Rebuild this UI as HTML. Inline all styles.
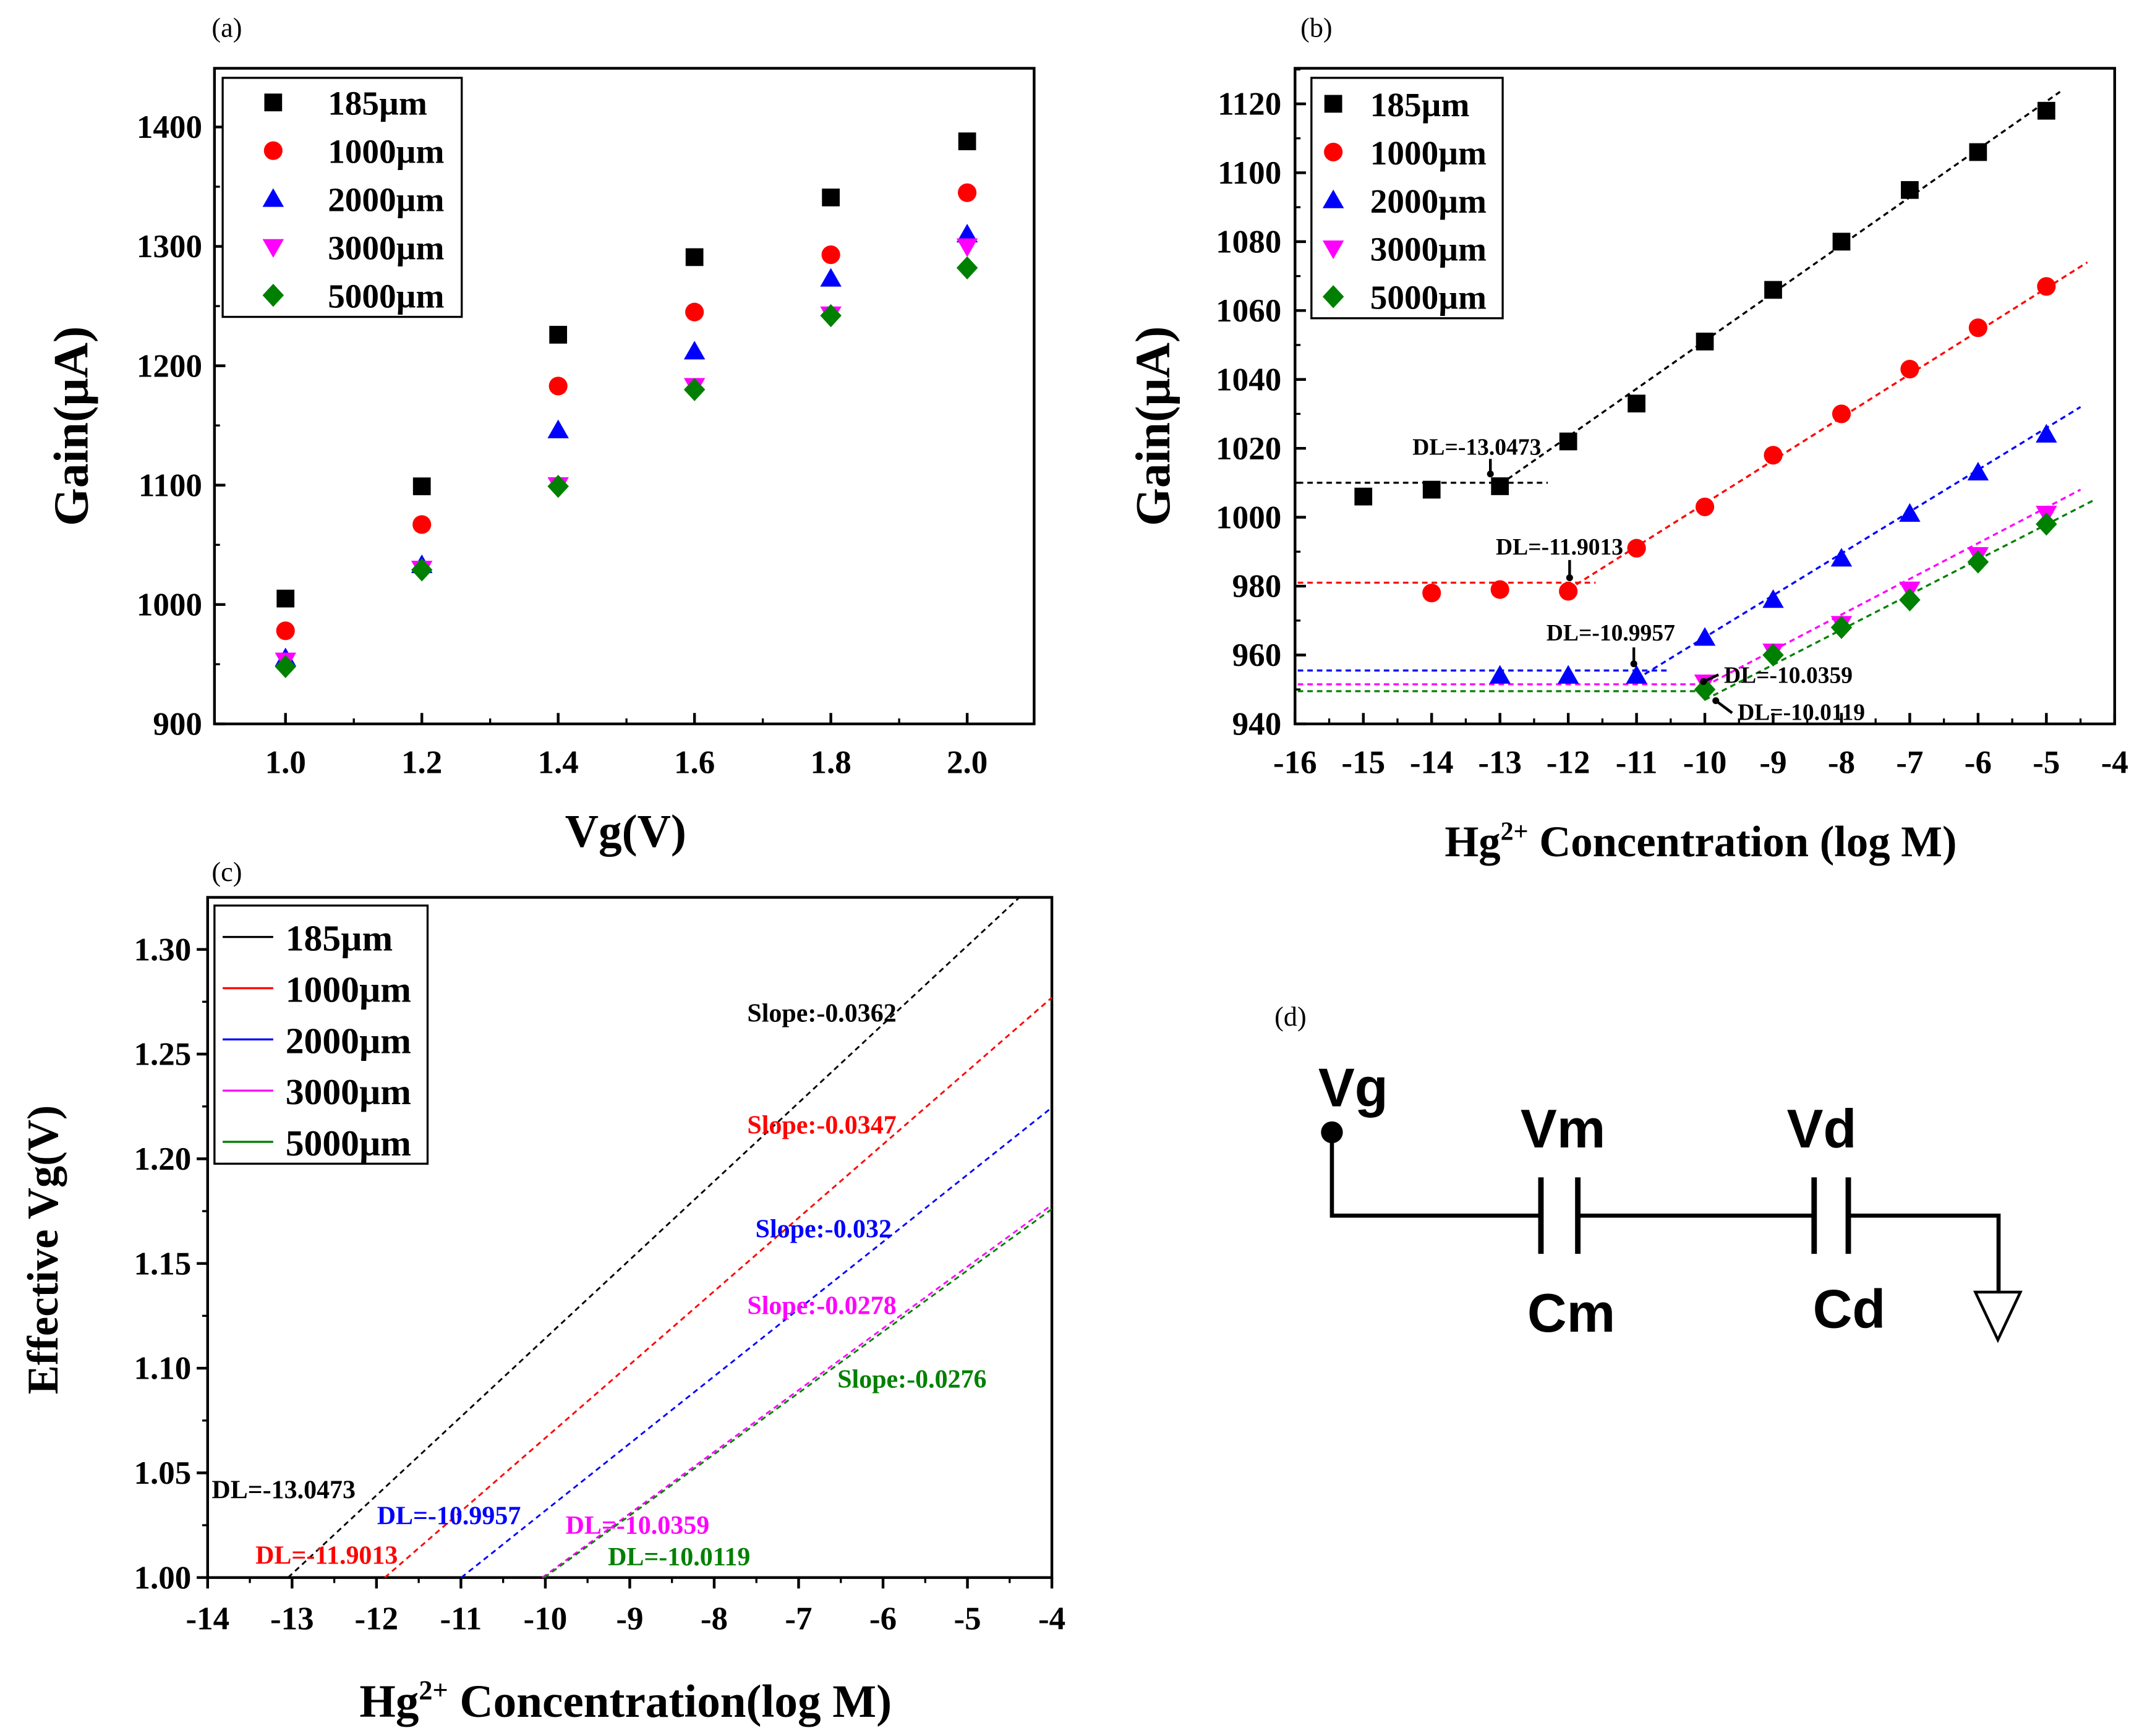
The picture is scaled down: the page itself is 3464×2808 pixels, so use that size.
<!DOCTYPE html>
<html><head><meta charset="utf-8"><style>
html,body{margin:0;padding:0;background:#fff}
svg{display:block}
text{font-family:"Liberation Serif",serif;font-weight:bold}
text.nb{font-weight:normal}
</style></head><body>
<svg id="fig" width="3464" height="2808" viewBox="0 0 1568 1271" preserveAspectRatio="none" xmlns="http://www.w3.org/2000/svg">
<rect width="1568" height="1271" fill="#fff"/>
<g id="pa"></g>
<g id="pb"></g>
<g id="pc"></g>
<g id="pd">
 <text class="nb" x="933" y="751" font-size="20">(d)</text>
 <circle cx="975" cy="829" r="8" fill="#000"/>
 <text x="965" y="810" font-size="40" style="font-family:'Liberation Sans',sans-serif">Vg</text>
 <path d="M975 829V890H1128M1155 890H1328M1353 890H1463V946" fill="none" stroke="#000" stroke-width="3"/>
 <path d="M1128 862V918M1155 862V918M1328 862V918M1353 862V918" stroke="#000" stroke-width="4"/>
 <path d="M1446 946H1479L1462.5 981Z" fill="#fff" stroke="#000" stroke-width="2"/>
 <text x="1113" y="840" font-size="40" style="font-family:'Liberation Sans',sans-serif">Vm</text>
 <text x="1118" y="975" font-size="40" style="font-family:'Liberation Sans',sans-serif">Cm</text>
 <text x="1308" y="840" font-size="40" style="font-family:'Liberation Sans',sans-serif">Vd</text>
 <text x="1327" y="972" font-size="40" style="font-family:'Liberation Sans',sans-serif">Cd</text>
</g>
</svg>
<script>
// ---------- data ----------
const seriesNames = ["185µm","1000µm","2000µm","3000µm","5000µm"];
const colors = ["#000000","#ff0000","#0000ff","#ff00ff","#008000"];
const markers = ["square","circle","up","down","diamond"];
// panel a
const aX = [1.0,1.2,1.4,1.6,1.8,2.0];
const a185 = [1005,1099,1226,1291,1341,1388];
const a1000 = [978,1067,1183,1245,1293,1345];
const a2000 = [955,1033,1146,1212,1273,1310];
const a3000 = [953,1030,1100,1183,1243,1300];
const a5000 = [948,1029,1099,1180,1242,1282];
const aXTicks = ["1.0","1.2","1.4","1.6","1.8","2.0"];
const aYTicks = [900,1000,1100,1200,1300,1400];
// panel b
const bX185 = [-15,-14,-13,-12,-11,-10,-9,-8,-7,-6,-5];
const b185 = [1006,1008,1009,1022,1033,1051,1066,1080,1095,1106,1118];
const bX1000 = [-14,-13,-12,-11,-10,-9,-8,-7,-6,-5];
const b1000 = [978,979,978.5,991,1003,1018,1030,1043,1055,1067];
const bX2000 = [-13,-12,-11,-10,-9,-8,-7,-6,-5];
const b2000 = [954,954,954,965,976,988,1001,1013,1024];
const bX3000 = [-10,-9,-8,-7,-6,-5];
const b3000 = [952,961,969,979,989,1001];
const bX5000 = [-10,-9,-8,-7,-6,-5];
const b5000 = [950,960,968,976,987,998];
const bBase = [1010,981,955.5,951.5,949.5];
const bBaseEnd = [-12.3,-11.6,-10.5,-10,-10];
const bFitStart = [-13,-12,-11,-10,-10];
const bFitStartY = [1009.5,979,953,951,947];
const bFitEnd = [-4.8,-4.4,-4.5,-4.5,-4.3];
const bFitEndY = [1123.5,1074,1032,1008,1005];
const bXTicks = [-16,-15,-14,-13,-12,-11,-10,-9,-8,-7,-6,-5,-4];
const bYTicks = [940,960,980,1000,1020,1040,1060,1080,1100,1120];
// panel c
const cDL = [-13.0473,-11.9013,-10.9957,-10.0359,-10.0119];
const cEndX = [-4.38,-4,-4,-4,-4];
const cEndY = [1.325,1.277,1.2245,1.178,1.176];
const cSlopes = ["Slope:-0.0362","Slope:-0.0347","Slope:-0.032","Slope:-0.0278","Slope:-0.0276"];
const cXTicks = [-14,-13,-12,-11,-10,-9,-8,-7,-6,-5,-4];
const cYTicks = ["1.00","1.05","1.10","1.15","1.20","1.25","1.30"];

const NS="http://www.w3.org/2000/svg";
function mk(parent,tag,attrs,txt){const e=document.createElementNS(NS,tag);for(const k in attrs)e.setAttribute(k,attrs[k]);if(txt!==undefined)e.textContent=txt;parent.appendChild(e);return e;}
function marker(g,type,x,y,c,s){
  let e;
  if(type==="square")e=mk(g,"rect",{x:x-s,y:y-s,width:2*s,height:2*s,fill:c});
  else if(type==="circle")e=mk(g,"circle",{cx:x,cy:y,r:s*1.05,fill:c});
  else if(type==="up")e=mk(g,"path",{d:`M${x} ${y-s*1.2}L${x+s*1.2} ${y+s*0.9}L${x-s*1.2} ${y+s*0.9}Z`,fill:c});
  else if(type==="down")e=mk(g,"path",{d:`M${x} ${y+s*1.2}L${x+s*1.2} ${y-s*0.9}L${x-s*1.2} ${y-s*0.9}Z`,fill:c});
  else e=mk(g,"path",{d:`M${x} ${y-s*1.3}L${x+s*1.2} ${y}L${x} ${y+s*1.3}L${x-s*1.2} ${y}Z`,fill:c});
  return e;
}
function frame(g,L,T,R,B){const f=mk(g,"rect",{x:L,y:T,width:R-L,height:B-T,fill:"none",stroke:"#000","stroke-width":2});

}

// ---------- panel a ----------
(function(){
const g=document.getElementById("pa");
const L=157,R=757,T=50,B=530;
const xs=v=>209+(v-1)*499, ys=v=>530-(v-900)*0.874;
const pl=mk(g,"text",{x:155,y:27,"font-size":20,class:"nb"},"(a)");


frame(g,L,T,R,B);
aXTicks.forEach((t,i)=>{const x=xs(+t);mk(g,"line",{x1:x,x2:x,y1:B,y2:B-8,stroke:"#000","stroke-width":2});
 const mx=x+50; if(mx<R) mk(g,"line",{x1:mx,x2:mx,y1:B,y2:B-4,stroke:"#000","stroke-width":1.5});
 const e=mk(g,"text",{x:x,y:B+36,"font-size":24,"text-anchor":"middle"},t);
 
 });
aYTicks.forEach(t=>{const y=ys(t);mk(g,"line",{x1:L,x2:L+8,y1:y,y2:y,stroke:"#000","stroke-width":2});
 if(ys(t+50)>T) mk(g,"line",{x1:L,x2:L+4,y1:ys(t+50),y2:ys(t+50),stroke:"#000","stroke-width":1.5});
 const e=mk(g,"text",{x:L-9,y:y+8,"font-size":24,"text-anchor":"end"},t);
 
 });
const yl=mk(g,"text",{x:0,y:0,"font-size":36,"text-anchor":"middle",transform:"translate(64,312) rotate(-90)"},"Gain(μA)");


const xl=mk(g,"text",{x:458,y:620,"font-size":34,"text-anchor":"middle"},"Vg(V)");


const data=[a185,a1000,a2000,a3000,a5000];
data.forEach((arr,si)=>arr.forEach((v,i)=>{const m=marker(g,markers[si],xs(aX[i]),ys(v),colors[si],6.5);
 
 }));
const lg=mk(g,"g",{});


mk(lg,"rect",{x:163,y:57,width:175,height:175,fill:"#fff",stroke:"#000","stroke-width":1.5});
seriesNames.forEach((n,i)=>{const y=75+i*35.3;marker(lg,markers[i],200,y,colors[i],6.5);
 const t=mk(lg,"text",{x:240,y:y+9,"font-size":25},n);
 
 });
})();

// ---------- panel b ----------
(function(){
const g=document.getElementById("pb");
const L=948,R=1548,T=50,B=530;
const xs=v=>948+(v+16)*50, ys=v=>530-(v-940)*2.522;
const pl=mk(g,"text",{x:952,y:27,"font-size":20,class:"nb"},"(b)");


frame(g,L,T,R,B);
bXTicks.forEach(t=>{const x=xs(t);mk(g,"line",{x1:x,x2:x,y1:B,y2:B-8,stroke:"#000","stroke-width":2});
 if(t<-4) mk(g,"line",{x1:x+25,x2:x+25,y1:B,y2:B-4,stroke:"#000","stroke-width":1.5});
 const e=mk(g,"text",{x:x,y:B+36,"font-size":24,"text-anchor":"middle"},t);
 
 });
bYTicks.forEach(t=>{const y=ys(t);mk(g,"line",{x1:L,x2:L+8,y1:y,y2:y,stroke:"#000","stroke-width":2});
 if(ys(t+10)>T) mk(g,"line",{x1:L,x2:L+4,y1:ys(t+10),y2:ys(t+10),stroke:"#000","stroke-width":1.5});
 const e=mk(g,"text",{x:L-10,y:y+8,"font-size":24,"text-anchor":"end"},t);
 
 });
const yl=mk(g,"text",{x:0,y:0,"font-size":36,"text-anchor":"middle",transform:"translate(856,312) rotate(-90)"},"Gain(μA)");


const xl=mk(g,"text",{x:1245,y:627,"font-size":32,"text-anchor":"middle"});
xl.innerHTML='Hg<tspan dy="-12" font-size="19">2+</tspan><tspan dy="12"> Concentration (log M)</tspan>';


colors.forEach((c,i)=>{
 const h=mk(g,"line",{x1:L+2,x2:xs(bBaseEnd[i]),y1:ys(bBase[i]),y2:ys(bBase[i]),stroke:c,"stroke-width":1.5,"stroke-dasharray":"4 3"});
 
 
 const f=mk(g,"line",{x1:xs(bFitStart[i]),y1:ys(bFitStartY[i]),x2:xs(bFitEnd[i]),y2:ys(bFitEndY[i]),stroke:c,"stroke-width":1.5,"stroke-dasharray":"4 3"});
 
 
});
const xsArr=[bX185,bX1000,bX2000,bX3000,bX5000], ysArr=[b185,b1000,b2000,b3000,b5000];
[3,4,2,1,0].forEach(si=>ysArr[si].forEach((v,i)=>{const m=marker(g,markers[si],xs(xsArr[si][i]),ys(v),colors[si],6.5);
 
 }));
const ann=[["DL=-13.0473",1034,333,1091,336,1091,347],["DL=-11.9013",1095,406,1149,410,1149,423],["DL=-10.9957",1132,469,1196,474,1196,486],["DL=-10.0359",1262,500,1258,494,1247,499],["DL=-10.0119",1272,527,1268,522,1256,513]];
ann.forEach(a=>{const t=mk(g,"text",{x:a[1],y:a[2],"font-size":17},a[0]);
 
 
 mk(g,"line",{x1:a[3],y1:a[4],x2:a[5],y2:a[6],stroke:"#000","stroke-width":2});
 mk(g,"circle",{cx:a[5],cy:a[6],r:2.5,fill:"#000"});});
const lg=mk(g,"g",{});


mk(lg,"rect",{x:960,y:57,width:140,height:176,fill:"#fff",stroke:"#000","stroke-width":1.5});
seriesNames.forEach((n,i)=>{const y=76+i*35.3;marker(lg,markers[i],976,y,colors[i],6.5);
 const t=mk(lg,"text",{x:1003,y:y+9,"font-size":25},n);
 
 });
})();

// ---------- panel c ----------
(function(){
const g=document.getElementById("pc");
const L=152,R=770,T=657,B=1155;
const xs=v=>152+(v+14)*61.8, ys=v=>1155-(v-1)*1533;
const pl=mk(g,"text",{x:155,y:645,"font-size":20,class:"nb"},"(c)");


frame(g,L,T,R,B);
cXTicks.forEach(t=>{const x=xs(t);mk(g,"line",{x1:x,x2:x,y1:B,y2:B+8,stroke:"#000","stroke-width":2});
 if(t<-4) mk(g,"line",{x1:x+30.9,x2:x+30.9,y1:B,y2:B+4,stroke:"#000","stroke-width":1.5});
 const e=mk(g,"text",{x:x,y:B+38,"font-size":24,"text-anchor":"middle"},t);
 
 });
cYTicks.forEach(t=>{const y=ys(+t);mk(g,"line",{x1:L,x2:L-8,y1:y,y2:y,stroke:"#000","stroke-width":2});
 if(ys(+t+0.025)>T) mk(g,"line",{x1:L,x2:L-4,y1:ys(+t+0.025),y2:ys(+t+0.025),stroke:"#000","stroke-width":1.5});
 const e=mk(g,"text",{x:L-12,y:y+8,"font-size":24,"text-anchor":"end"},t);
 
 });
const yl=mk(g,"text",{x:0,y:0,"font-size":32,"text-anchor":"middle",transform:"translate(42,915) rotate(-90)"},"Effective Vg(V)");


const xl=mk(g,"text",{x:458,y:1257,"font-size":34,"text-anchor":"middle"});
xl.innerHTML='Hg<tspan dy="-13" font-size="20">2+</tspan><tspan dy="13"> Concentration(log M)</tspan>';


colors.forEach((c,i)=>{const l=mk(g,"line",{x1:xs(cDL[i]),y1:ys(1),x2:xs(cEndX[i]),y2:ys(cEndY[i]),stroke:c,"stroke-width":1.3,"stroke-dasharray":"4 3"});
 
 });
const slopePos=[[547,748],[547,830],[553,906],[547,962],[613,1016]];
cSlopes.forEach((s,i)=>{const t=mk(g,"text",{x:slopePos[i][0],y:slopePos[i][1],"font-size":19,fill:colors[i]},s);
 
 });
const dlPos=[[155,1097],[187,1145],[276,1116],[414,1123],[445,1146]];
cDL.forEach((d,i)=>{const t=mk(g,"text",{x:dlPos[i][0],y:dlPos[i][1],"font-size":19,fill:colors[i]},"DL="+d);
 
 });
const lg=mk(g,"g",{});


mk(lg,"rect",{x:157,y:663,width:156,height:189,fill:"#fff",stroke:"#000","stroke-width":1.5});
seriesNames.forEach((n,i)=>{const y=686+i*37.5;mk(lg,"line",{x1:163,x2:200,y1:y,y2:y,stroke:colors[i],"stroke-width":1.5});
 const t=mk(lg,"text",{x:209,y:y+10,"font-size":27},n);
 
 });
})();
</script>
</body></html>
